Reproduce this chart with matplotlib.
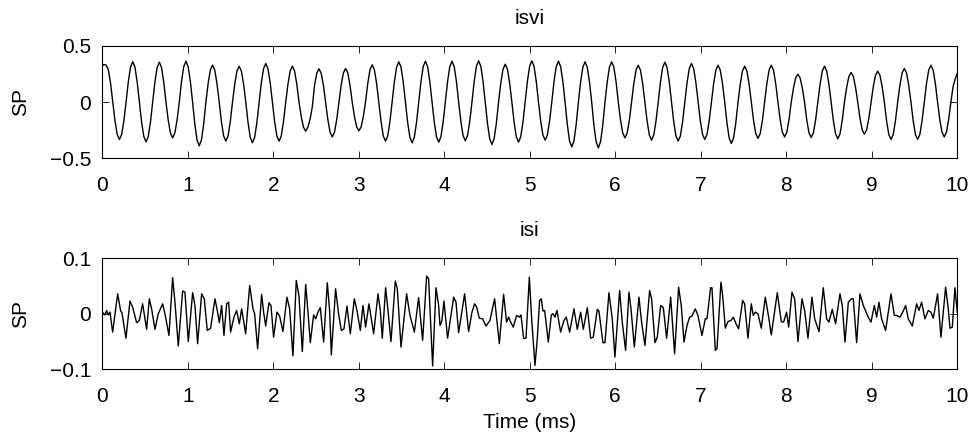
import matplotlib
matplotlib.use("Agg")
import matplotlib.pyplot as plt
import numpy as np

plt.rcParams['font.family'] = ['Liberation Sans', 'DejaVu Sans']

# top trace "isvi": samples, about 12 per cycle
dt_top = 0.025933   # ms per sample
t0_top = -0.0069    # ms, time of the first sample
isvi_sp = [
    0.32, 0.335,
    0.33, 0.290, 0.168, 0.0, -0.166, -0.288, -0.332, -0.288, -0.166, 0.0, 0.180, 0.312,
    0.360, 0.312, 0.180, 0.0, -0.177, -0.306, -0.353, -0.306, -0.177, 0.0, 0.178, 0.308,
    0.356, 0.308, 0.178, 0.0, -0.159, -0.275, -0.318, -0.275, -0.159, 0.0, 0.183, 0.316,
    0.365, 0.316, 0.183, 0.0, -0.195, -0.337, -0.389, -0.337, -0.195, 0.0, 0.165, 0.286,
    0.330, 0.286, 0.165, 0.0, -0.174, -0.301, -0.347, -0.301, -0.174, 0.0, 0.160, 0.277,
    0.320, 0.277, 0.160, 0.0, -0.181, -0.313, -0.362, -0.313, -0.181, 0.0, 0.172, 0.298,
    0.344, 0.298, 0.172, 0.0, -0.174, -0.301, -0.347, -0.301, -0.174, 0.0, 0.160, 0.277,
    0.320, 0.277, 0.160, 0.0, -0.129, -0.223, -0.258, -0.223, -0.150, -0.040, 0.149, 0.257,
    0.297, 0.257, 0.149, 0.0, -0.155, -0.268, -0.309, -0.268, -0.155, 0.0, 0.150, 0.260,
    0.300, 0.260, 0.150, 0.0, -0.128, -0.221, -0.255, -0.221, -0.128, 0.0, 0.166, 0.288,
    0.332, 0.288, 0.166, 0.0, -0.174, -0.301, -0.347, -0.301, -0.174, 0.0, 0.180, 0.311,
    0.359, 0.311, 0.180, 0.0, -0.181, -0.313, -0.362, -0.313, -0.181, 0.0, 0.183, 0.316,
    0.365, 0.316, 0.183, 0.0, -0.178, -0.308, -0.356, -0.308, -0.178, 0.0, 0.183, 0.316,
    0.365, 0.316, 0.183, 0.0, -0.172, -0.298, -0.344, -0.298, -0.172, 0.0, 0.184, 0.319,
    0.368, 0.319, 0.184, 0.0, -0.189, -0.326, -0.377, -0.326, -0.189, 0.0, 0.169, 0.293,
    0.338, 0.293, 0.169, 0.0, -0.178, -0.308, -0.356, -0.308, -0.178, 0.0, 0.184, 0.319,
    0.368, 0.319, 0.184, 0.0, -0.169, -0.293, -0.338, -0.293, -0.169, 0.0, 0.183, 0.316,
    0.365, 0.316, 0.183, 0.0, -0.199, -0.345, -0.398, -0.345, -0.199, 0.0, 0.180, 0.311,
    0.359, 0.311, 0.180, 0.0, -0.204, -0.352, -0.407, -0.352, -0.204, 0.0, 0.180, 0.311,
    0.359, 0.311, 0.180, 0.0, -0.159, -0.275, -0.318, -0.275, -0.159, 0.0, 0.165, 0.285,
    0.329, 0.285, 0.165, 0.0, -0.169, -0.293, -0.338, -0.293, -0.169, 0.0, 0.178, 0.308,
    0.356, 0.308, 0.178, 0.0, -0.174, -0.301, -0.347, -0.301, -0.174, 0.0, 0.172, 0.298,
    0.344, 0.298, 0.172, 0.0, -0.166, -0.288, -0.332, -0.288, -0.166, 0.0, 0.165, 0.285,
    0.329, 0.285, 0.165, 0.0, -0.184, -0.319, -0.368, -0.319, -0.184, 0.0, 0.160, 0.277,
    0.320, 0.277, 0.160, 0.0, -0.162, -0.280, -0.323, -0.280, -0.162, 0.0, 0.165, 0.285,
    0.329, 0.285, 0.165, 0.0, -0.155, -0.268, -0.309, -0.268, -0.155, 0.0, 0.125, 0.216,
    0.249, 0.216, 0.125, 0.0, -0.158, -0.273, -0.315, -0.273, -0.158, 0.0, 0.160, 0.277,
    0.320, 0.277, 0.160, 0.0, -0.163, -0.282, -0.326, -0.282, -0.163, 0.0, 0.132, 0.229,
    0.264, 0.229, 0.132, 0.0, -0.143, -0.247, -0.285, -0.247, -0.143, 0.0, 0.138, 0.239,
    0.276, 0.239, 0.138, 0.0, -0.166, -0.288, -0.332, -0.288, -0.166, 0.0, 0.150, 0.260,
    0.300, 0.260, 0.150, 0.0, -0.166, -0.288, -0.332, -0.288, -0.166, 0.0, 0.165, 0.285,
    0.329, 0.285, 0.165, 0.0, -0.155, -0.268, -0.309, -0.268, -0.155, 0.0, 0.140, 0.210,
    0.260,
]

# bottom trace "isi": vertices of the polyline (time in ms, SP)
isi_t = [
    0.0, 0.031, 0.051, 0.070, 0.090, 0.121, 0.180, 0.215, 0.230, 0.277, 0.324, 0.355,
    0.402, 0.433, 0.472, 0.519, 0.550, 0.577, 0.616, 0.655, 0.706, 0.733, 0.780, 0.823,
    0.850, 0.889, 0.940, 0.967, 1.006, 1.057, 1.084, 1.115, 1.162, 1.193, 1.228, 1.267,
    1.318, 1.345, 1.369, 1.396, 1.423, 1.455, 1.478, 1.501, 1.540, 1.571, 1.603, 1.630,
    1.677, 1.724, 1.763, 1.782, 1.817, 1.864, 1.887, 1.911, 1.950, 1.973, 2.004, 2.043,
    2.074, 2.113, 2.160, 2.191, 2.230, 2.269, 2.300, 2.340, 2.379, 2.406, 2.433, 2.472,
    2.496, 2.523, 2.550, 2.589, 2.632, 2.659, 2.679, 2.729, 2.764, 2.796, 2.827, 2.862,
    2.901, 2.948, 2.979, 3.018, 3.049, 3.080, 3.119, 3.147, 3.174, 3.225, 3.252, 3.275,
    3.314,
    3.338, 3.377, 3.427, 3.451, 3.494, 3.560, 3.599, 3.650, 3.700, 3.747, 3.794, 3.817,
    3.864, 3.903, 3.934, 3.950, 3.973, 3.996, 4.039, 4.110, 4.137, 4.168, 4.238, 4.285,
    4.324, 4.355, 4.379, 4.410, 4.449, 4.488, 4.534, 4.589, 4.644, 4.694, 4.729, 4.753,
    4.776, 4.807, 4.846, 4.878, 4.897, 4.928, 4.956, 4.995,
    5.022, 5.061, 5.088, 5.115, 5.135, 5.154, 5.174, 5.217, 5.252, 5.271, 5.295, 5.318,
    5.361, 5.400, 5.427, 5.466, 5.517, 5.556, 5.595, 5.626, 5.673, 5.712, 5.743, 5.790,
    5.809, 5.856, 5.880, 5.926, 5.965, 5.996, 6.051, 6.082, 6.121, 6.160, 6.184, 6.223,
    6.277, 6.308, 6.347, 6.402, 6.425, 6.464, 6.492, 6.531, 6.562, 6.601, 6.648,
    6.694, 6.741, 6.772, 6.804, 6.839, 6.870, 6.897, 6.936, 6.967, 7.014, 7.053, 7.073,
    7.115, 7.131, 7.170, 7.190, 7.236, 7.256, 7.287, 7.318, 7.353, 7.381, 7.412, 7.443,
    7.490, 7.513, 7.552, 7.591, 7.614, 7.638, 7.669, 7.708, 7.755, 7.794, 7.825, 7.895,
    7.919, 7.942, 7.969, 8.004, 8.028, 8.067, 8.098, 8.137, 8.184, 8.215, 8.254, 8.301,
    8.332,
    8.383, 8.433, 8.472, 8.499, 8.538, 8.577, 8.628, 8.655, 8.687, 8.726, 8.764, 8.784,
    8.823, 8.862, 8.901, 8.959, 8.991, 9.030, 9.057, 9.084, 9.115, 9.162, 9.225, 9.264,
    9.291, 9.330, 9.369, 9.396, 9.427, 9.474, 9.525, 9.552, 9.583, 9.622, 9.661, 9.692,
    9.720, 9.770, 9.809, 9.864, 9.895, 9.915, 9.942, 9.973, 10.0,
]
isi_sp = [
    0.003, -0.002, 0.006, -0.002, 0.003, -0.033, 0.036, 0.005, 0.002, -0.044, 0.023, 0.012,
    -0.016, -0.012, 0.018, -0.028, 0.027, 0.009, -0.028, 0.0, 0.018, 0.0, -0.039, 0.065,
    0.021, -0.058, 0.041, 0.039, -0.050, 0.038, 0.015, -0.054, 0.036, 0.027, -0.030, -0.026,
    0.027, 0.006, -0.016, 0.015, -0.039, 0.018, 0.021, -0.033, -0.006, 0.006, -0.018, 0.009,
    -0.036, 0.051, 0.009, 0.0, -0.063, 0.035, 0.003, -0.022, 0.020, 0.015, -0.042, 0.003,
    -0.004, -0.032, 0.030, 0.009, -0.076, 0.060, 0.033, -0.068, 0.053, 0.003, -0.052, -0.002,
    -0.009, 0.003, 0.011, -0.051, 0.056, 0.006, -0.074, 0.045, 0.0, -0.030, -0.027, 0.014,
    -0.036, 0.027, 0.006, -0.030, 0.015, -0.024, 0.018, -0.009, -0.036, 0.036, 0.006, -0.044,
    0.047,
    0.012, -0.050, 0.059, 0.045, -0.060, 0.036, -0.003, -0.033, 0.029, -0.048, 0.068, 0.063,
    -0.094, 0.047, 0.015, -0.021, -0.012, 0.023, -0.044, 0.030, 0.021, -0.034, 0.036, -0.032,
    0.003, 0.018, 0.012, -0.008, -0.009, -0.022, -0.012, 0.027, -0.054, 0.035, -0.015, -0.006,
    -0.015, -0.024, -0.003, -0.006, -0.002, -0.044, -0.044, 0.066,
    -0.009, -0.093, -0.045, 0.024, 0.027, 0.005, 0.006, -0.051, -0.002, 0.0, -0.006, 0.006,
    -0.033, -0.012, -0.006, -0.033, 0.009, -0.028, 0.003, -0.028, 0.011, -0.044, -0.042, 0.008,
    0.005, -0.052, -0.052, 0.038, -0.009, -0.078, 0.042, -0.015, -0.066, 0.039, 0.009, -0.060,
    0.030, -0.015, -0.057, 0.042, 0.027, -0.052, -0.042, 0.015, 0.011, -0.044, 0.030,
    -0.072, 0.048, 0.015, -0.051, -0.021, -0.006, -0.004, 0.009, -0.003, -0.039, -0.009, -0.009,
    0.047, 0.047, -0.066, -0.063, 0.057, 0.033, -0.026, -0.014, -0.012, -0.006, -0.018, -0.027,
    0.024, 0.018, -0.044, 0.018, -0.003, 0.003, 0.0, -0.026, 0.030, -0.006, -0.038, 0.038,
    0.012, -0.014, -0.015, 0.003, -0.024, 0.039, 0.027, -0.050, 0.027, 0.006, -0.044, 0.030,
    -0.009,
    -0.032, 0.047, -0.009, -0.015, 0.008, -0.018, 0.036, 0.015, -0.051, 0.021, 0.027, 0.027,
    -0.052, 0.036, 0.015, -0.006, -0.015, 0.015, -0.006, 0.021, -0.009, -0.030, 0.036, -0.003,
    -0.003, -0.006, 0.005, 0.015, -0.009, -0.022, 0.018, 0.006, 0.021, -0.009, 0.006, 0.003,
    -0.008, 0.036, -0.042, 0.048, 0.009, -0.026, -0.024, 0.047, 0.003,
]

x_ticks = list(range(0, 11))
top_yticks = [-0.5, 0, 0.5]
top_ylabels = ['\u22120.5', '0', '0.5']
bot_yticks = [-0.1, 0, 0.1]
bot_ylabels = ['\u22120.1', '0', '0.1']

t_top = t0_top + dt_top * np.arange(len(isvi_sp))

fig = plt.figure(figsize=(9.75, 4.36), dpi=100)
ax1 = fig.add_axes([0.1049, 0.6369, 0.8769, 0.2576])
ax2 = fig.add_axes([0.1049, 0.1530, 0.8769, 0.2546])

ax1.plot(t_top, isvi_sp, color='black', linewidth=1.0)
ax2.plot(isi_t, isi_sp, color='black', linewidth=1.0)

fs = 15
for ax, title, yt, yl, lim in [(ax1, 'isvi', top_yticks, top_ylabels, 0.5),
                               (ax2, 'isi', bot_yticks, bot_ylabels, 0.1)]:
    ax.set_xlim(0, 10)
    ax.set_ylim(-lim, lim)
    ax.set_xticks(x_ticks)
    ax.set_yticks(yt)
    ax.set_yticklabels(yl)
    ax.set_title(title, fontsize=fs, pad=16)
    ax.set_ylabel('SP', fontsize=fs, labelpad=14)
    ax.tick_params(direction='in', top=True, right=True, length=5, width=0.6,
                   labelsize=fs)
    ax.tick_params(axis='x', pad=13)
    ax.tick_params(axis='y', pad=8)
    for s in ax.spines.values():
        s.set_linewidth(0.8)

ax2.set_xlabel('Time (ms)', fontsize=fs, labelpad=5)

fig.savefig('out.png', dpi=100)
